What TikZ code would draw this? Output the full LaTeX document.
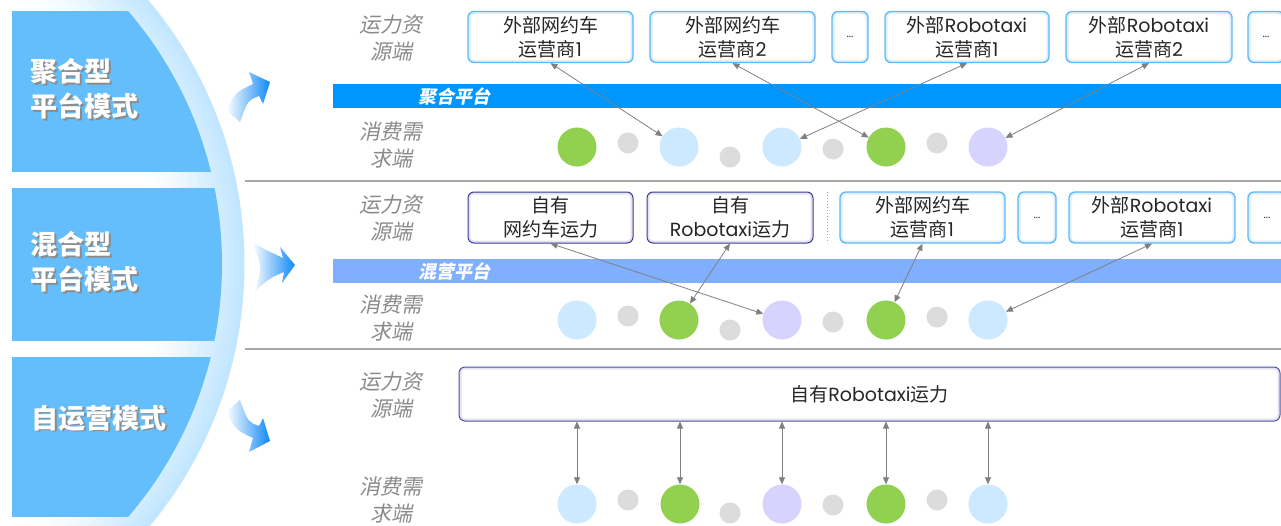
\documentclass[tikz,border=0pt]{standalone}
\usepackage{fontspec}
\setmainfont{Noto Sans CJK SC}
\newfontfamily\lat{Poppins}
\newfontfamily\cjkit[FakeSlant=0.2]{Noto Sans CJK SC}
\usetikzlibrary{arrows.meta}
\definecolor{leftblue}{HTML}{64BEFC}
\definecolor{glow}{HTML}{C2E6FF}
\definecolor{arrowblue}{HTML}{1088F8}
\definecolor{barone}{HTML}{0096FF}
\definecolor{bartwo}{HTML}{80AFFF}
\definecolor{boxblue}{HTML}{5CB8F8}
\definecolor{boxnavy}{HTML}{3A3A9C}
\definecolor{dgreen}{HTML}{92D050}
\definecolor{dlblue}{HTML}{CCE9FF}
\definecolor{dpurple}{HTML}{D6D4FF}
\definecolor{dgray}{HTML}{DCDCDC}
\definecolor{labgray}{HTML}{8A8A8A}
\definecolor{sepgray}{HTML}{A8A8A8}
\definecolor{conngray}{HTML}{808080}
\definecolor{boxtext}{HTML}{262626}
\tikzset{
 extbox/.style={draw=boxblue, line width=1.3pt, fill=white, rounded corners=6pt, align=center,
   font=\fontsize{19}{24}\selectfont, inner sep=0pt, minimum height=51pt, text=boxtext,
   path picture={\draw[boxblue!22, line width=5pt, rounded corners=6pt]
     (path picture bounding box.south west) rectangle (path picture bounding box.north east);}},
 ownbox/.style={extbox, draw=boxnavy, line width=1pt,
   path picture={\draw[boxnavy!14, line width=5pt, rounded corners=6pt]
     (path picture bounding box.south west) rectangle (path picture bounding box.north east);}},
 dotbox/.style={extbox, font=\lat\fontsize{11}{12}\selectfont},
 bigdot/.style={circle, minimum size=39pt, inner sep=0pt, draw=none},
 smalldot/.style={circle, minimum size=21pt, inner sep=0pt, fill=dgray},
 side/.style={font=\cjkit\fontsize{21}{27}\selectfont, text=labgray, align=center},
 conn/.style={draw=conngray, line width=0.8pt, {Triangle[length=7pt,width=6pt]}-{Triangle[length=7pt,width=6pt]}},
 modetext/.style={font=\bfseries\fontsize{27}{35}\selectfont, align=left, anchor=west, text=white},
 modeshadow/.style={modetext, text=black!45},
 bartext/.style={font=\cjkit\bfseries\fontsize{18}{20}\selectfont, text=white},
 sepline/.style={draw=sepgray, line width=1.3pt},
}
\begin{document}
\begin{tikzpicture}[x=1pt,y=-1pt]
\useasboundingbox (0,0) rectangle (1281,525);
\fill[white] (0,0) rectangle (1281,525);

% glow band
\foreach \r/\p in {410/100,406/95,402/90,398/84,394/78,390/72,386/66,380/57,372/45,364/34,356/24,348/15,340/8,332/3,324/0}{
  \fill[glow!\p!white] (-165.5,264) circle[radius=\r pt];
}
% left blue shapes
\begin{scope}
\clip (-165.5,264) circle[radius=387.5pt];
\fill[leftblue] (12,11) rectangle (300,172);
\fill[leftblue] (12,188) rectangle (300,341);
\fill[leftblue] (12,357) rectangle (300,517);
\end{scope}

% mode titles
\node[modeshadow] (m1s) at (28.5,90.5) {聚合型\\平台模式};
\node[modetext] (m1) at (27,89) {聚合型\\平台模式};
\node[modeshadow] (m2s) at (28.5,263.5) {混合型\\平台模式};
\node[modetext] (m2) at (27,262) {混合型\\平台模式};
\node[modeshadow] (m3s) at (29.5,419.5) {自运营模式};
\node[modetext] (m3) at (28,418) {自运营模式};

% gradient arrows
\shade[left color=white, right color=arrowblue]
  (226,110) .. controls (236,92) .. (253,84) -- (249,72) -- (270,82) -- (263,104) -- (259,96)
  .. controls (248,100) .. (240,122) -- cycle;
\shade[left color=white, right color=arrowblue]
  (252,242) .. controls (266,250) .. (283,258) -- (280,247) -- (295,265) -- (282,283) -- (284,272)
  .. controls (270,278) .. (256,290) .. controls (262,266) .. cycle;
\shade[left color=white, right color=arrowblue]
  (226,412) .. controls (236,430) .. (253,438) -- (249,452) -- (270,441) -- (263,418) -- (259,426)
  .. controls (248,422) .. (240,400) -- cycle;

% separators
\coordinate (s1a) at (245,181); \coordinate (s1b) at (1281,181);
\coordinate (s2a) at (245,349); \coordinate (s2b) at (1281,349);
\draw[sepline] (s1a) -- (s1b);
\draw[sepline] (s2a) -- (s2b);

% side labels
\node[side] (l1) at (391,38) {运力资\\源端};
\node[side] (l2) at (391,145) {消费需\\求端};
\node[side] (l3) at (391,218) {运力资\\源端};
\node[side] (l4) at (391,318) {消费需\\求端};
\node[side] (l5) at (391,395) {运力资\\源端};
\node[side] (l6) at (391,500) {消费需\\求端};

% bars
\fill[barone] (333,84) rectangle (1281,108);
\node[bartext] (bt1) at (454,96) {聚合平台};
\fill[bartwo] (333,259) rectangle (1281,283);
\node[bartext] (bt2) at (454,271) {混营平台};

% row 1 boxes
\node[extbox, minimum width=165pt] (a1) at (550.5,37) {外部网约车\\运营商{\lat 1}};
\node[extbox, minimum width=165pt] (a2) at (732.5,37) {外部网约车\\运营商{\lat 2}};
\node[dotbox, minimum width=36pt] (a3) at (850,37) {...};
\node[extbox, minimum width=164pt] (a4) at (967,37) {外部{\lat Robotaxi}\\运营商{\lat 1}};
\node[extbox, minimum width=166pt] (a5) at (1149,37) {外部{\lat Robotaxi}\\运营商{\lat 2}};
\node[dotbox, minimum width=36pt] (a6) at (1266,37) {...};

% row 1 dots
\node[bigdot, fill=dgreen] (r1c1) at (577,147) {};
\node[smalldot] (r1s1) at (628,143) {};
\node[bigdot, fill=dlblue] (r1c2) at (679,147) {};
\node[smalldot] (r1s2) at (730,157) {};
\node[bigdot, fill=dlblue] (r1c3) at (782,147) {};
\node[smalldot] (r1s3) at (833,149) {};
\node[bigdot, fill=dgreen] (r1c4) at (886,147) {};
\node[smalldot] (r1s4) at (937,143) {};
\node[bigdot, fill=dpurple] (r1c5) at (988,147) {};

\draw[conn] (a1.south) -- (r1c2);
\draw[conn] (a2.south) -- (r1c4);
\draw[conn] (a4.south) -- (r1c3);
\draw[conn] (a5.south) -- (r1c5);

% row 2 boxes
\node[ownbox, minimum width=165pt] (b1) at (550.5,217.5) {自有\\网约车运力};
\node[ownbox, minimum width=166pt] (b2) at (730,217.5) {自有\\{\lat Robotaxi}运力};
\coordinate (d1) at (827,192); \coordinate (d2) at (827,243);
\draw[sepgray, line width=1pt, dotted] (d1) -- (d2);
\node[extbox, minimum width=165pt] (b3) at (922.5,217.5) {外部网约车\\运营商{\lat 1}};
\node[dotbox, minimum width=38pt] (b4) at (1037,217.5) {...};
\node[extbox, minimum width=166pt] (b5) at (1152,217.5) {外部{\lat Robotaxi}\\运营商{\lat 1}};
\node[dotbox, minimum width=38pt] (b6) at (1267,217.5) {...};

% row 2 dots
\node[bigdot, fill=dlblue] (r2c1) at (577,320) {};
\node[smalldot] (r2s1) at (628,316) {};
\node[bigdot, fill=dgreen] (r2c2) at (679,320) {};
\node[smalldot] (r2s2) at (730,330) {};
\node[bigdot, fill=dpurple] (r2c3) at (782,320) {};
\node[smalldot] (r2s3) at (833,322) {};
\node[bigdot, fill=dgreen] (r2c4) at (886,320) {};
\node[smalldot] (r2s4) at (937,317) {};
\node[bigdot, fill=dlblue] (r2c5) at (988,320) {};

\draw[conn] (b1.south) -- (r2c3);
\draw[conn] (b2.south) -- (r2c2);
\draw[conn] (b3.south) -- (r2c4);
\draw[conn] (b5.south) -- (r2c5);

% row 3
\node[ownbox, draw=boxnavy!90!white, minimum width=821pt, minimum height=54pt] (c0) at (869.5,394) {自有{\lat Robotaxi}运力};
\node[bigdot, fill=dlblue] (r3c1) at (577,504) {};
\node[smalldot] (r3s1) at (628,500) {};
\node[bigdot, fill=dgreen] (r3c2) at (680,504) {};
\node[smalldot] (r3s2) at (730,513) {};
\node[bigdot, fill=dpurple] (r3c3) at (782,504) {};
\node[smalldot] (r3s3) at (833,505) {};
\node[bigdot, fill=dgreen] (r3c4) at (886,504) {};
\node[smalldot] (r3s4) at (937,500) {};
\node[bigdot, fill=dlblue] (r3c5) at (988,504) {};

\foreach \k in {1,...,5}{
  \draw[conn] (c0.south -| r3c\k) -- (r3c\k);
}
\end{tikzpicture}
\end{document}
